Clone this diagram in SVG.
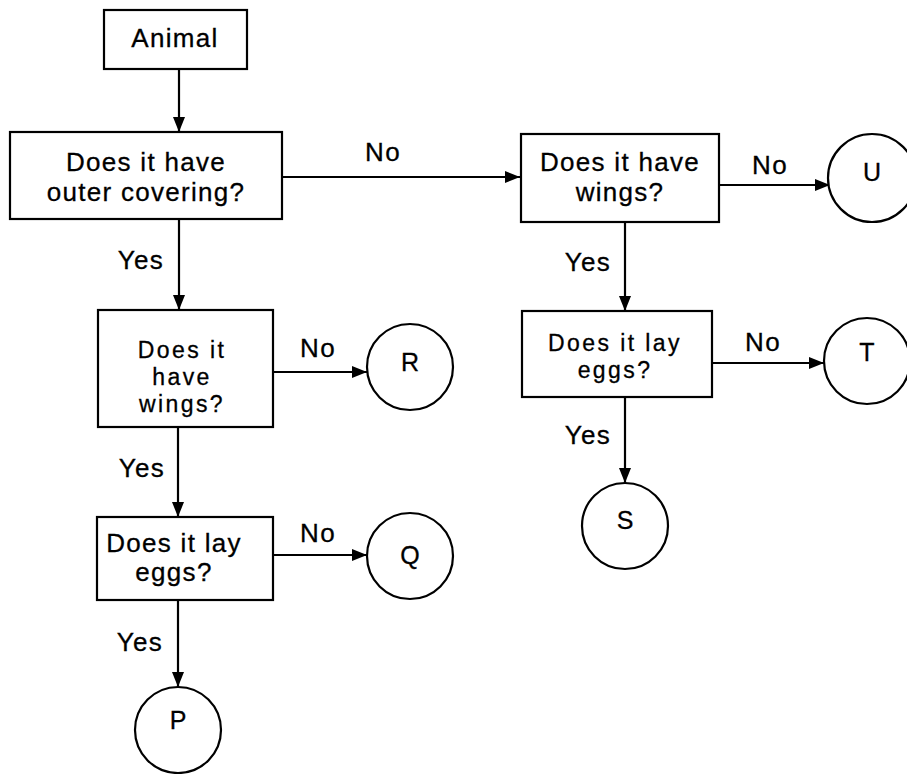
<svg xmlns="http://www.w3.org/2000/svg" width="907" height="774" viewBox="0 0 907 774">
<style>
.box{fill:#fff;stroke:#000;stroke-width:2.2}
.circ{fill:#fff;stroke:#000;stroke-width:2.2}
.t{font-family:"Liberation Sans",Arial,sans-serif;font-size:26px;letter-spacing:1.3px;fill:#000;stroke:#000;stroke-width:0.3;text-anchor:middle}
.s{font-size:23px;letter-spacing:2.4px}
.c{font-family:"Liberation Sans",Arial,sans-serif;font-size:25px;fill:#000;stroke:#000;stroke-width:0.3;text-anchor:middle}
.ln{stroke:#000;stroke-width:2.2;fill:none;marker-end:url(#ah)}
</style>
<defs>
<marker id="ah" markerUnits="userSpaceOnUse" markerWidth="15" markerHeight="12" refX="15" refY="6" orient="auto">
<path d="M0,0 L15,6 L0,12 z" fill="#000"/>
</marker>
</defs>
<rect width="907" height="774" fill="#fff"/>
<g id="connectors">
<line class="ln" x1="179" y1="69" x2="179" y2="132"/>
<line class="ln" x1="282" y1="177" x2="520" y2="177"/>
<line class="ln" x1="179" y1="219" x2="179" y2="310"/>
<line class="ln" x1="273" y1="372" x2="367" y2="372"/>
<line class="ln" x1="178" y1="427" x2="178" y2="517"/>
<line class="ln" x1="273" y1="555" x2="367" y2="555"/>
<line class="ln" x1="178" y1="600" x2="178" y2="687"/>
<line class="ln" x1="719" y1="185" x2="830" y2="185"/>
<line class="ln" x1="625" y1="222" x2="625" y2="311"/>
<line class="ln" x1="712" y1="363" x2="824" y2="363"/>
<line class="ln" x1="625" y1="397" x2="625" y2="483"/>
<text class="t" x="383" y="161">No</text>
<text class="t" x="141" y="269">Yes</text>
<text class="t" x="318" y="357">No</text>
<text class="t" x="142" y="477">Yes</text>
<text class="t" x="318" y="542">No</text>
<text class="t" x="140" y="651">Yes</text>
<text class="t" x="770" y="174">No</text>
<text class="t" x="588" y="271">Yes</text>
<text class="t" x="763" y="351">No</text>
<text class="t" x="588" y="444">Yes</text>
</g>
<g id="animal">
<rect class="box" x="104" y="10" width="143" height="59"/>
<text class="t" x="175" y="47">Animal</text>
</g>
<g id="q-covering">
<rect class="box" x="10" y="132" width="272" height="87"/>
<text class="t" x="146" y="171">Does it have</text>
<text class="t" x="146" y="201">outer covering?</text>
</g>
<g id="q-wings-left">
<rect class="box" x="98" y="310" width="175" height="117"/>
<text class="t s" x="182" y="358">Does it</text>
<text class="t s" x="182" y="385">have</text>
<text class="t s" x="182" y="412">wings?</text>
</g>
<g id="q-eggs-left">
<rect class="box" x="97" y="517" width="176" height="83"/>
<text class="t" x="174" y="552">Does it lay</text>
<text class="t" x="174" y="581">eggs?</text>
</g>
<g id="q-wings-right">
<rect class="box" x="521" y="134" width="198" height="88"/>
<text class="t" x="620" y="171">Does it have</text>
<text class="t" x="620" y="201">wings?</text>
</g>
<g id="q-eggs-right">
<rect class="box" x="522" y="311" width="190" height="86"/>
<text class="t s" x="615" y="351">Does it lay</text>
<text class="t s" x="615" y="378">eggs?</text>
</g>
<g id="R"><circle class="circ" cx="410" cy="367" r="43"/><text class="c" x="410" y="371">R</text></g>
<g id="Q"><circle class="circ" cx="410" cy="556" r="43"/><text class="c" x="410" y="564">Q</text></g>
<g id="P"><circle class="circ" cx="178" cy="730" r="43"/><text class="c" x="178" y="729">P</text></g>
<g id="U"><circle class="circ" cx="872" cy="178" r="44"/><text class="c" x="872" y="181">U</text></g>
<g id="T"><circle class="circ" cx="867" cy="361" r="43"/><text class="c" x="867" y="361">T</text></g>
<g id="S"><circle class="circ" cx="625" cy="526" r="43"/><text class="c" x="625" y="529">S</text></g>
</svg>
